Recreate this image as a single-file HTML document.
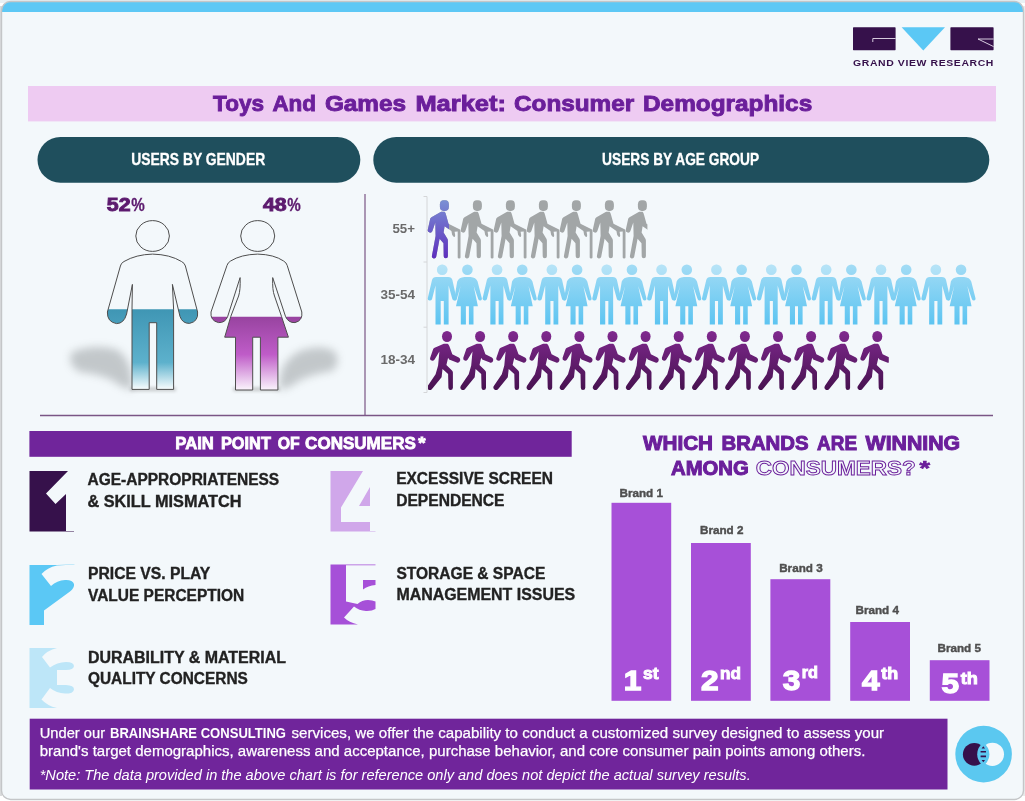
<!DOCTYPE html>
<html lang="en"><head><meta charset="utf-8"><title>Toys And Games Market: Consumer Demographics</title>
<style>
html,body{margin:0;padding:0;background:#fff;}
body{width:1025px;height:801px;overflow:hidden;font-family:"Liberation Sans",sans-serif;}
svg{display:block;font-family:"Liberation Sans",sans-serif;}
</style></head><body>
<svg width="1025" height="801" viewBox="0 0 1025 801">
<defs>
<clipPath id="frameclip"><rect x="1.5" y="1.5" width="1022" height="798" rx="9" ry="9"/></clipPath>
<linearGradient id="gBlue" gradientUnits="userSpaceOnUse" x1="0" y1="4" x2="0" y2="65"><stop offset="0" stop-color="#a3dcf5"/><stop offset="1" stop-color="#5cc4f1"/></linearGradient>
<linearGradient id="gPurp" gradientUnits="userSpaceOnUse" x1="0" y1="5" x2="0" y2="65"><stop offset="0" stop-color="#80298f"/><stop offset="1" stop-color="#471250"/></linearGradient>
<linearGradient id="gOld" gradientUnits="userSpaceOnUse" x1="0" y1="5" x2="0" y2="63"><stop offset="0" stop-color="#7a90d4"/><stop offset="1" stop-color="#5e2fbe"/></linearGradient>
<linearGradient id="gMan" gradientUnits="userSpaceOnUse" x1="0" y1="309" x2="0" y2="390"><stop offset="0" stop-color="#3f96b4"/><stop offset="0.66" stop-color="#5db1cc"/><stop offset="0.98" stop-color="#f3fafc"/></linearGradient>
<linearGradient id="gWoman" gradientUnits="userSpaceOnUse" x1="0" y1="316" x2="0" y2="390"><stop offset="0" stop-color="#97439f"/><stop offset="0.52" stop-color="#bf5cc8"/><stop offset="0.98" stop-color="#f8eefa"/></linearGradient>
<filter id="blur5" x="-50%" y="-50%" width="200%" height="200%"><feGaussianBlur stdDeviation="4.5"/></filter>
<filter id="blur2" x="-50%" y="-50%" width="200%" height="200%"><feGaussianBlur stdDeviation="1.5"/></filter>

<g id="old">
<rect x="14.9" y="5.1" width="9" height="10.6" rx="3.8" ry="4.3"/>
<path d="M16.1 16.6 L19.6 16.6 Q20.6 17.6 21 19.5 L23.5 28.5 L33.5 33.6 Q35.5 34 35.5 36 L35.5 62.2 Q35.5 63.2 34.1 63.2 Q32.7 63.2 32.7 62.2 L32.7 36.4 L29.6 36.6 L30.2 40 Q30 42.2 28.9 41.8 L27.2 39.9 L26.4 35.8 L19.6 31 L18.6 37.4 L22.4 43.6 Q22.9 44.5 22.9 45.5 L22.9 61 Q22.9 63 20.8 63 Q18.7 63 18.7 61 L18.5 48 L14.6 43.6 L11.2 61.6 Q10.8 63.4 8.7 63.2 Q6.6 62.8 6.9 60.8 L10.6 40.7 L10.3 27.4 L7.3 36 Q6.6 37.8 4.6 37.4 Q2.4 36.8 2.7 34.8 L5.2 23.6 Q5.5 22.6 6.5 22 Z"/>
</g>
<g id="couple">
<circle cx="17.2" cy="9.8" r="5.3"/><circle cx="17.2" cy="9.8" r="5.3" fill="#fff" fill-opacity="0.22"/>
<path d="M11.2 17 L23.2 17 Q26.6 17 27.4 20 L31.5 38.6 Q31.6 40.4 29.8 40.6 Q28.2 40.7 27.4 39.3 L23.6 25.5 L23.6 64.6 L18.8 64.6 L18.8 41 L15.7 41 L15.7 64.6 L10.5 64.6 L10.5 25.5 L7 39.3 Q6.2 40.8 4.6 40.6 Q2.6 40.2 2.7 38.4 L7 20 Q7.8 17 11.2 17 Z"/>
<circle cx="42.4" cy="9.8" r="5.3"/>
<path d="M39.5 17 L45.5 17 Q51 17.4 52.6 21.5 L56.9 38.4 Q57 40.2 55.4 40.5 Q53.9 40.6 53.3 39.3 L48.7 26 L52.9 46.3 L48.5 46.3 L48.5 64.6 L43.9 64.6 L43.9 46.3 L40.9 46.3 L40.9 64.6 L35.8 64.6 L35.8 46.3 L31 46.3 L35.6 26 L31.6 39.6 Q30.8 40.8 29.6 40.5 L29.4 38.4 L32.2 21.5 Q33.8 17.4 39.5 17 Z"/>
</g>
<g id="walk">
<ellipse cx="22" cy="11.1" rx="5" ry="5.5"/>
<path d="M18.8 18.3 L22.6 18.3 Q23.8 18.9 24.5 21 L27.3 28.9 L33.8 32 Q35.8 33.2 35 35.6 Q34 38 31.8 37.2 L24.1 34 L23.1 32.3 L21.4 39.7 L27 45 Q27.9 45.9 27.9 47.2 L27.9 62.4 Q27.8 64.6 25.6 64.6 Q23.4 64.6 23.4 62.4 L23.1 48.5 L17.5 43.7 L16.6 51.8 L6.8 63.8 Q5.2 65.4 3.2 64.2 Q1.4 62.6 2.6 60.6 L10.6 48.9 L13.1 40.2 L14.4 26.2 L9.6 34 Q8.4 35.8 6.6 35.2 Q4.6 34.4 5.2 32.4 L8.2 23.6 Q8.7 22.6 9.6 22.3 Z"/>
</g>
</defs>

<rect x="0" y="0" width="1025" height="801" fill="#fff"/>
<rect x="0" y="0" width="1025" height="3" fill="#e9f1f5"/>
<rect x="1022" y="6" width="3" height="790" fill="#e9eaeb"/>
<rect x="0" y="6" width="2" height="790" fill="#d9dbdc"/>
<rect x="1.5" y="1.5" width="1022" height="798" rx="9" ry="9" fill="#f3f8fb"/>
<rect x="0" y="0" width="1025" height="12" fill="#5dc8f5" clip-path="url(#frameclip)"/>
<rect x="1.5" y="1.5" width="1022" height="798" rx="9" ry="9" fill="none" stroke="#c4c6c8" stroke-width="1.4"/>
<g>
<rect x="853" y="27.3" width="42.6" height="22.9" rx="0.6" fill="#36114b"/>
<path d="M872.8 42 L872.8 38.5 L895.6 38.5" fill="none" stroke="#e9e0ee" stroke-width="0.9"/>
<path d="M901.6 27.3 L945 27.3 L923.3 50.6 Z" fill="#5bc8f5"/>
<rect x="950.4" y="27.3" width="43.2" height="22.9" rx="0.6" fill="#36114b"/>
<path d="M993.6 39 L978 39 L993.6 46.6" fill="none" stroke="#e9e0ee" stroke-width="0.9" stroke-linejoin="miter"/>
</g>
<text x="853" y="66.2" font-size="8.6" font-weight="bold" fill="#36114b" text-anchor="start" textLength="141" lengthAdjust="spacingAndGlyphs" letter-spacing="0.5">GRAND VIEW RESEARCH</text>
<rect x="28" y="86" width="968" height="35.4" fill="#eecbf2"/>
<text x="213.1" y="110.6" font-size="22.5" font-weight="bold" fill="#6b1f9b" text-anchor="start" textLength="50.9" lengthAdjust="spacingAndGlyphs" stroke="#6b1f9b" stroke-width="0.9">Toys</text><text x="272.4" y="110.6" font-size="22.5" font-weight="bold" fill="#6b1f9b" text-anchor="start" textLength="43.7" lengthAdjust="spacingAndGlyphs" stroke="#6b1f9b" stroke-width="0.9">And</text><text x="324.9" y="110.6" font-size="22.5" font-weight="bold" fill="#6b1f9b" text-anchor="start" textLength="81.2" lengthAdjust="spacingAndGlyphs" stroke="#6b1f9b" stroke-width="0.9">Games</text><text x="415.4" y="110.6" font-size="22.5" font-weight="bold" fill="#6b1f9b" text-anchor="start" textLength="90.6" lengthAdjust="spacingAndGlyphs" stroke="#6b1f9b" stroke-width="0.9">Market:</text><text x="514" y="110.6" font-size="22.5" font-weight="bold" fill="#6b1f9b" text-anchor="start" textLength="120.2" lengthAdjust="spacingAndGlyphs" stroke="#6b1f9b" stroke-width="0.9">Consumer</text><text x="643" y="110.6" font-size="22.5" font-weight="bold" fill="#6b1f9b" text-anchor="start" textLength="169.2" lengthAdjust="spacingAndGlyphs" stroke="#6b1f9b" stroke-width="0.9">Demographics</text>
<rect x="37.5" y="137" width="322.8" height="45.8" rx="22.9" fill="#1f4f5d"/>
<rect x="373.3" y="137" width="616" height="45.8" rx="22.9" fill="#1f4f5d"/>
<text x="131.2" y="165.4" font-size="16.4" font-weight="bold" fill="#fff" text-anchor="start" textLength="134" lengthAdjust="spacingAndGlyphs" stroke="#fff" stroke-width="0.3">USERS BY GENDER</text>
<text x="602.1" y="165.4" font-size="16.4" font-weight="bold" fill="#fff" text-anchor="start" textLength="157" lengthAdjust="spacingAndGlyphs" stroke="#fff" stroke-width="0.3">USERS BY AGE GROUP</text>
<text x="106.8" y="210.7" font-size="17.5" font-weight="bold" fill="#5c1a6e" text-anchor="start" textLength="23.7" lengthAdjust="spacingAndGlyphs" stroke="#5c1a6e" stroke-width="0.9">52</text>
<text x="131.2" y="210.7" font-size="17.5" font-weight="bold" fill="#5c1a6e" text-anchor="start" textLength="13.5" lengthAdjust="spacingAndGlyphs" stroke="#5c1a6e" stroke-width="0.3">%</text>
<text x="262.9" y="210.7" font-size="17.5" font-weight="bold" fill="#5c1a6e" text-anchor="start" textLength="23.7" lengthAdjust="spacingAndGlyphs" stroke="#5c1a6e" stroke-width="0.9">48</text>
<text x="287.2" y="210.7" font-size="17.5" font-weight="bold" fill="#5c1a6e" text-anchor="start" textLength="13.5" lengthAdjust="spacingAndGlyphs" stroke="#5c1a6e" stroke-width="0.3">%</text>
<line x1="365" y1="194" x2="365" y2="415.5" stroke="#7a5585" stroke-width="1.2"/>
<line x1="40" y1="415.5" x2="993" y2="415.5" stroke="#7a5585" stroke-width="1.3"/>
<g filter="url(#blur5)" opacity="0.36"><path d="M72 352 Q96 343 118 350 Q128 358 131 372 L133 390 Q122 388 112 380 Q96 373 80 372 Q66 364 72 352 Z" fill="#6d7274"/></g>
<g filter="url(#blur5)" opacity="0.36"><path d="M279 390 L281 372 Q286 358 300 351 Q320 344 334 351 Q342 362 332 371 Q316 373 300 380 Q290 388 279 390 Z" fill="#6d7274"/></g>
<g filter="url(#blur2)" opacity="0.3"><rect x="130" y="387" width="46" height="4.5" fill="#777"/><rect x="233" y="387" width="47" height="4.5" fill="#777"/></g>
<clipPath id="manfill"><rect x="100" y="309.2" width="110" height="90"/></clipPath>
<path d="M152.6 254.1 Q170 254.5 181.5 261.5 Q184.6 263 185.4 266 L197.6 312 Q198.6 321.5 189.5 323.4 Q182.5 323.6 180 316.5 L172.4 284.4 L173.6 309.2 L173.6 389.4 L156.7 389.4 L156.7 322.7 L149.2 322.7 L149.2 389.4 L132 389.4 L132 309.2 L132.4 284.4 L126.6 314 Q124 323.6 116.5 323.6 Q107 322 107.4 312 L120.4 266 Q121 263 124 261.5 Q136 254.5 152.6 254.1 Z" fill="#f3f8fb"/>
<path d="M152.6 254.1 Q170 254.5 181.5 261.5 Q184.6 263 185.4 266 L197.6 312 Q198.6 321.5 189.5 323.4 Q182.5 323.6 180 316.5 L172.4 284.4 L173.6 309.2 L173.6 389.4 L156.7 389.4 L156.7 322.7 L149.2 322.7 L149.2 389.4 L132 389.4 L132 309.2 L132.4 284.4 L126.6 314 Q124 323.6 116.5 323.6 Q107 322 107.4 312 L120.4 266 Q121 263 124 261.5 Q136 254.5 152.6 254.1 Z" fill="url(#gMan)" clip-path="url(#manfill)"/>
<path d="M152.6 254.1 Q170 254.5 181.5 261.5 Q184.6 263 185.4 266 L197.6 312 Q198.6 321.5 189.5 323.4 Q182.5 323.6 180 316.5 L172.4 284.4 L173.6 309.2 L173.6 389.4 L156.7 389.4 L156.7 322.7 L149.2 322.7 L149.2 389.4 L132 389.4 L132 309.2 L132.4 284.4 L126.6 314 Q124 323.6 116.5 323.6 Q107 322 107.4 312 L120.4 266 Q121 263 124 261.5 Q136 254.5 152.6 254.1 Z" fill="none" stroke="#4e4e4e" stroke-width="1" stroke-linejoin="round"/>
<ellipse cx="152.6" cy="236" rx="16.8" ry="15.4" fill="#f3f8fb" stroke="#4e4e4e" stroke-width="1"/>
<clipPath id="womfill"><rect x="200" y="316.7" width="120" height="90"/></clipPath>
<path d="M257.7 254.1 Q274 254.5 283.6 261 Q286.4 262.6 287.2 265.4 L301.8 312 Q303 320.6 295 322.6 Q288.5 323 285.6 316.7 L272.7 277.6 Q272.2 290 274.5 296 L281.6 316.7 L288.4 337.2 L277.9 337.2 L277.9 390 L260.4 390 L260.4 337.2 L252.7 337.2 L252.7 390 L235.5 390 L235.5 337.2 L224.7 337.2 L230.7 316.7 L238.6 296 Q240.6 290 240.1 277.6 L227.6 316.7 Q225 323 218.5 322.6 Q210 320.6 211 312 L227 265.4 Q227.8 262.6 230.6 261 Q241 254.5 257.7 254.1 Z" fill="#f3f8fb"/>
<path d="M257.7 254.1 Q274 254.5 283.6 261 Q286.4 262.6 287.2 265.4 L301.8 312 Q303 320.6 295 322.6 Q288.5 323 285.6 316.7 L272.7 277.6 Q272.2 290 274.5 296 L281.6 316.7 L288.4 337.2 L277.9 337.2 L277.9 390 L260.4 390 L260.4 337.2 L252.7 337.2 L252.7 390 L235.5 390 L235.5 337.2 L224.7 337.2 L230.7 316.7 L238.6 296 Q240.6 290 240.1 277.6 L227.6 316.7 Q225 323 218.5 322.6 Q210 320.6 211 312 L227 265.4 Q227.8 262.6 230.6 261 Q241 254.5 257.7 254.1 Z" fill="url(#gWoman)" clip-path="url(#womfill)"/>
<path d="M257.7 254.1 Q274 254.5 283.6 261 Q286.4 262.6 287.2 265.4 L301.8 312 Q303 320.6 295 322.6 Q288.5 323 285.6 316.7 L272.7 277.6 Q272.2 290 274.5 296 L281.6 316.7 L288.4 337.2 L277.9 337.2 L277.9 390 L260.4 390 L260.4 337.2 L252.7 337.2 L252.7 390 L235.5 390 L235.5 337.2 L224.7 337.2 L230.7 316.7 L238.6 296 Q240.6 290 240.1 277.6 L227.6 316.7 Q225 323 218.5 322.6 Q210 320.6 211 312 L227 265.4 Q227.8 262.6 230.6 261 Q241 254.5 257.7 254.1 Z" fill="none" stroke="#4e4e4e" stroke-width="1" stroke-linejoin="round"/>
<ellipse cx="257.7" cy="236" rx="17" ry="15.4" fill="#f3f8fb" stroke="#4e4e4e" stroke-width="1"/>
<path d="M423.5 196.5 L427 196.5 L427 392.5 L423.5 392.5 M423.5 262 L427 262 M423.5 327.2 L427 327.2" fill="none" stroke="#d4d6d8" stroke-width="1"/>
<text x="415" y="232.9" font-size="12.5" font-weight="bold" fill="#6a6a6a" text-anchor="end" textLength="22.5" lengthAdjust="spacingAndGlyphs">55+</text>
<text x="415" y="298.8" font-size="12.5" font-weight="bold" fill="#6a6a6a" text-anchor="end" textLength="34.6" lengthAdjust="spacingAndGlyphs">35-54</text>
<text x="415" y="364" font-size="12.5" font-weight="bold" fill="#6a6a6a" text-anchor="end" textLength="34.6" lengthAdjust="spacingAndGlyphs">18-34</text>
<clipPath id="oldclip"><rect x="420" y="190" width="227.4" height="70"/></clipPath>
<clipPath id="oldpurp"><rect x="420" y="190" width="29" height="70"/></clipPath>
<g clip-path="url(#oldclip)" fill="#a2a6a7"><use href="#old" x="425.0" y="195.2"/><use href="#old" x="458.0" y="195.2"/><use href="#old" x="491.0" y="195.2"/><use href="#old" x="524.0" y="195.2"/><use href="#old" x="557.0" y="195.2"/><use href="#old" x="590.0" y="195.2"/><use href="#old" x="623.0" y="195.2"/></g>
<g clip-path="url(#oldpurp)"><use href="#old" x="425" y="195.2" fill="url(#gOld)"/></g>
<g fill="url(#gBlue)"><use href="#couple" x="425.00" y="260"/><use href="#couple" x="479.85" y="260"/><use href="#couple" x="534.70" y="260"/><use href="#couple" x="589.55" y="260"/><use href="#couple" x="644.40" y="260"/><use href="#couple" x="699.25" y="260"/><use href="#couple" x="754.10" y="260"/><use href="#couple" x="808.95" y="260"/><use href="#couple" x="863.80" y="260"/><use href="#couple" x="918.65" y="260"/></g>
<clipPath id="walkclip"><rect x="428" y="325" width="460.8" height="70"/></clipPath>
<g clip-path="url(#walkclip)" fill="url(#gPurp)"><use href="#walk" x="425.0" y="325.4"/><use href="#walk" x="458.1" y="325.4"/><use href="#walk" x="491.2" y="325.4"/><use href="#walk" x="524.3" y="325.4"/><use href="#walk" x="557.4" y="325.4"/><use href="#walk" x="590.5" y="325.4"/><use href="#walk" x="623.6" y="325.4"/><use href="#walk" x="656.7" y="325.4"/><use href="#walk" x="689.8" y="325.4"/><use href="#walk" x="722.9" y="325.4"/><use href="#walk" x="756.0" y="325.4"/><use href="#walk" x="789.1" y="325.4"/><use href="#walk" x="822.2" y="325.4"/><use href="#walk" x="855.3" y="325.4"/></g>
<rect x="29.4" y="431" width="542.3" height="25.8" fill="#70259b"/>
<text x="175.3" y="449.3" font-size="16.6" font-weight="bold" fill="#fff" text-anchor="start" textLength="38.6" lengthAdjust="spacingAndGlyphs" stroke="#fff" stroke-width="0.8">PAIN</text><text x="220.9" y="449.3" font-size="16.6" font-weight="bold" fill="#fff" text-anchor="start" textLength="50.0" lengthAdjust="spacingAndGlyphs" stroke="#fff" stroke-width="0.8">POINT</text><text x="277.8" y="449.3" font-size="16.6" font-weight="bold" fill="#fff" text-anchor="start" textLength="22.0" lengthAdjust="spacingAndGlyphs" stroke="#fff" stroke-width="0.8">OF</text><text x="305.1" y="449.3" font-size="16.6" font-weight="bold" fill="#fff" text-anchor="start" textLength="110.7" lengthAdjust="spacingAndGlyphs" stroke="#fff" stroke-width="0.8">CONSUMERS</text><text x="418.2" y="449.3" font-size="16.6" font-weight="bold" fill="#fff" text-anchor="start" textLength="7.3" lengthAdjust="spacingAndGlyphs" stroke="#fff" stroke-width="0.8">*</text>
<path d="M29.5 471 L68 471 L46 493.5 L55.5 504 L66 494 L66 531 L74 531 L74 531.6 L29.5 531.6 Z" fill="#36114b"/>
<path d="M29.5 565 L57 565 Q66 564.3 74.5 564.4 L74.5 564.8 Q66 564.8 57 565.4 Q47 567.5 41.5 574 L51 586 Q57 580.5 65 580 Q72.5 579.6 74 584 Q74.6 588 70 591.4 L44 610.5 L44 625 L29.5 625 Z" fill="#5bc8f5"/>
<path d="M29.5 648 L57 648 Q47 650.5 42 657 L50 667.4 Q57 662.4 66 662 Q73.6 662 74 666 Q73.6 670 66 670 L57 670 L57 685 L66 685 Q74 685.4 74 689.4 Q73.6 693.6 65 693.6 Q56.5 693.2 50 688 L41.5 699.4 Q47 705.5 57 708 L29.5 708 Z" fill="#bde6f8"/>
<path d="M330.5 471 L363 471 L341 507.5 L341 522 L370 522 L370 531 L375.5 531 L375.5 531.5 L330.5 531.5 Z M370 487 L370 506 L359 506 Z" fill="#d0a7ea"/>
<path d="M330.5 564.6 L375.5 564.6 L375.5 565.2 L346 565.2 L346 601.5 L357.5 604 Q362 600 368 600 Q372.5 600 375.5 601.5 L375.5 609 Q372 611.2 366 611 Q359 610.6 354 606.5 L344 617.5 Q349 622.5 358 624.6 L330.5 624.6 Z M363 580 L375.5 580 L375.5 585 Q368 585.6 363 589.6 Z" fill="#a650d8"/>
<text x="87.5" y="484.7" font-size="16" font-weight="bold" fill="#222" text-anchor="start" textLength="191.7" lengthAdjust="spacingAndGlyphs" stroke="#222" stroke-width="0.35">AGE-APPROPRIATENESS</text>
<text x="87.5" y="507" font-size="16" font-weight="bold" fill="#222" text-anchor="start" textLength="153.9" lengthAdjust="spacingAndGlyphs" stroke="#222" stroke-width="0.35">&amp; SKILL MISMATCH</text>
<text x="88" y="578.6" font-size="16" font-weight="bold" fill="#222" text-anchor="start" textLength="122.3" lengthAdjust="spacingAndGlyphs" stroke="#222" stroke-width="0.35">PRICE VS. PLAY</text>
<text x="88" y="600.7" font-size="16" font-weight="bold" fill="#222" text-anchor="start" textLength="156.2" lengthAdjust="spacingAndGlyphs" stroke="#222" stroke-width="0.35">VALUE PERCEPTION</text>
<text x="88" y="663.4" font-size="16" font-weight="bold" fill="#222" text-anchor="start" textLength="198" lengthAdjust="spacingAndGlyphs" stroke="#222" stroke-width="0.35">DURABILITY &amp; MATERIAL</text>
<text x="88" y="684.4" font-size="16" font-weight="bold" fill="#222" text-anchor="start" textLength="159.8" lengthAdjust="spacingAndGlyphs" stroke="#222" stroke-width="0.35">QUALITY CONCERNS</text>
<text x="396.2" y="483.6" font-size="16" font-weight="bold" fill="#222" text-anchor="start" textLength="156.8" lengthAdjust="spacingAndGlyphs" stroke="#222" stroke-width="0.35">EXCESSIVE SCREEN</text>
<text x="396.2" y="505.9" font-size="16" font-weight="bold" fill="#222" text-anchor="start" textLength="108.3" lengthAdjust="spacingAndGlyphs" stroke="#222" stroke-width="0.35">DEPENDENCE</text>
<text x="396.4" y="578.6" font-size="16" font-weight="bold" fill="#222" text-anchor="start" textLength="148.9" lengthAdjust="spacingAndGlyphs" stroke="#222" stroke-width="0.35">STORAGE &amp; SPACE</text>
<text x="396.4" y="599.5" font-size="16" font-weight="bold" fill="#222" text-anchor="start" textLength="178.8" lengthAdjust="spacingAndGlyphs" stroke="#222" stroke-width="0.35">MANAGEMENT ISSUES</text>
<text x="643" y="449.7" font-size="20" font-weight="bold" fill="#6b1f9b" text-anchor="start" textLength="70" lengthAdjust="spacingAndGlyphs" stroke="#6b1f9b" stroke-width="1">WHICH</text><text x="721.5" y="449.7" font-size="20" font-weight="bold" fill="#6b1f9b" text-anchor="start" textLength="87.1" lengthAdjust="spacingAndGlyphs" stroke="#6b1f9b" stroke-width="1">BRANDS</text><text x="817.1" y="449.7" font-size="20" font-weight="bold" fill="#6b1f9b" text-anchor="start" textLength="39.9" lengthAdjust="spacingAndGlyphs" stroke="#6b1f9b" stroke-width="1">ARE</text><text x="865.6" y="449.7" font-size="20" font-weight="bold" fill="#6b1f9b" text-anchor="start" textLength="94.6" lengthAdjust="spacingAndGlyphs" stroke="#6b1f9b" stroke-width="1">WINNING</text>
<text x="671" y="475.3" font-size="20" font-weight="bold" fill="#6b1f9b" text-anchor="start" textLength="77.8" lengthAdjust="spacingAndGlyphs" stroke="#6b1f9b" stroke-width="1">AMONG</text>
<text x="755.8" y="475.3" font-size="20" font-weight="bold" fill="#f3f8fb" text-anchor="start" textLength="160" lengthAdjust="spacingAndGlyphs" stroke="#6b1f9b" stroke-width="0.9">CONSUMERS?</text>
<text x="919.5" y="475.3" font-size="20" font-weight="bold" fill="#6b1f9b" text-anchor="start" textLength="10.5" lengthAdjust="spacingAndGlyphs" stroke="#6b1f9b" stroke-width="0.7">*</text>
<rect x="611.5" y="502.8" width="59.7" height="198.0" fill="#a750d8"/>
<rect x="691" y="543" width="59.8" height="157.8" fill="#a750d8"/>
<rect x="770.4" y="579.2" width="59.9" height="121.6" fill="#a750d8"/>
<rect x="850.2" y="622" width="59.8" height="78.8" fill="#a750d8"/>
<rect x="929.8" y="660.2" width="59.7" height="40.6" fill="#a750d8"/>
<text x="619.5" y="497" font-size="11.5" font-weight="bold" fill="#4f4f4f" text-anchor="start" textLength="43.5" lengthAdjust="spacingAndGlyphs" stroke="#4f4f4f" stroke-width="0.4">Brand 1</text>
<text x="700" y="533.7" font-size="11.5" font-weight="bold" fill="#4f4f4f" text-anchor="start" textLength="43.5" lengthAdjust="spacingAndGlyphs" stroke="#4f4f4f" stroke-width="0.4">Brand 2</text>
<text x="779.2" y="571.7" font-size="11.5" font-weight="bold" fill="#4f4f4f" text-anchor="start" textLength="43.5" lengthAdjust="spacingAndGlyphs" stroke="#4f4f4f" stroke-width="0.4">Brand 3</text>
<text x="855.5" y="613.9" font-size="11.5" font-weight="bold" fill="#4f4f4f" text-anchor="start" textLength="43.5" lengthAdjust="spacingAndGlyphs" stroke="#4f4f4f" stroke-width="0.4">Brand 4</text>
<text x="937.5" y="651.8" font-size="11.5" font-weight="bold" fill="#4f4f4f" text-anchor="start" textLength="43.5" lengthAdjust="spacingAndGlyphs" stroke="#4f4f4f" stroke-width="0.4">Brand 5</text>
<text x="623.8" y="690.1" font-size="28" font-weight="bold" fill="#fff" text-anchor="start" textLength="17.6" lengthAdjust="spacingAndGlyphs" stroke="#fff" stroke-width="1.3">1</text>
<text x="642.9" y="678.6" font-size="16.2" font-weight="bold" fill="#fff" text-anchor="start" textLength="15.6" lengthAdjust="spacingAndGlyphs" stroke="#fff" stroke-width="0.9">st</text>
<text x="701" y="690.1" font-size="28" font-weight="bold" fill="#fff" text-anchor="start" textLength="17.6" lengthAdjust="spacingAndGlyphs" stroke="#fff" stroke-width="1.3">2</text>
<text x="720" y="678.6" font-size="16.2" font-weight="bold" fill="#fff" text-anchor="start" textLength="20.9" lengthAdjust="spacingAndGlyphs" stroke="#fff" stroke-width="0.9">nd</text>
<text x="782.7" y="689.5" font-size="28" font-weight="bold" fill="#fff" text-anchor="start" textLength="17.6" lengthAdjust="spacingAndGlyphs" stroke="#fff" stroke-width="1.3">3</text>
<text x="801.7" y="678.0" font-size="16.2" font-weight="bold" fill="#fff" text-anchor="start" textLength="16.3" lengthAdjust="spacingAndGlyphs" stroke="#fff" stroke-width="0.9">rd</text>
<text x="861.9" y="690.1" font-size="28" font-weight="bold" fill="#fff" text-anchor="start" textLength="17.6" lengthAdjust="spacingAndGlyphs" stroke="#fff" stroke-width="1.3">4</text>
<text x="881.3" y="678.6" font-size="16.2" font-weight="bold" fill="#fff" text-anchor="start" textLength="16.9" lengthAdjust="spacingAndGlyphs" stroke="#fff" stroke-width="0.9">th</text>
<text x="941.5" y="692.7" font-size="28" font-weight="bold" fill="#fff" text-anchor="start" textLength="17.6" lengthAdjust="spacingAndGlyphs" stroke="#fff" stroke-width="1.3">5</text>
<text x="960.7" y="683.5" font-size="16.2" font-weight="bold" fill="#fff" text-anchor="start" textLength="17.1" lengthAdjust="spacingAndGlyphs" stroke="#fff" stroke-width="0.9">th</text>
<rect x="29.7" y="718.7" width="917.8" height="70.8" fill="#70259b"/>
<text x="39.7" y="738.4" font-size="15.3" font-weight="normal" fill="#fff" text-anchor="start" textLength="65.4" lengthAdjust="spacingAndGlyphs" stroke="#fff" stroke-width="0.25">Under our</text>
<text x="110" y="738.4" font-size="15.3" font-weight="bold" fill="#fff" text-anchor="start" textLength="176" lengthAdjust="spacingAndGlyphs">BRAINSHARE CONSULTING</text>
<text x="291.5" y="738.4" font-size="15.3" font-weight="normal" fill="#fff" text-anchor="start" textLength="592.6" lengthAdjust="spacingAndGlyphs" stroke="#fff" stroke-width="0.25">services, we offer the capability to conduct a customized survey designed to assess your</text>
<text x="39.7" y="756.2" font-size="15.3" font-weight="normal" fill="#fff" text-anchor="start" textLength="825.7" lengthAdjust="spacingAndGlyphs" stroke="#fff" stroke-width="0.25">brand's target demographics, awareness and acceptance, purchase behavior, and core consumer pain points among others.</text>
<text x="39.7" y="780" font-size="14.5" font-weight="normal" fill="#fff" text-anchor="start" textLength="711" lengthAdjust="spacingAndGlyphs" font-style="italic">*Note: The data provided in the above chart is for reference only and does not depict the actual survey results.</text>
<circle cx="983.6" cy="754.1" r="28.3" fill="#5bc8f0"/>
<circle cx="974.3" cy="754.3" r="11.4" fill="#36114b"/>
<circle cx="992.4" cy="754.3" r="11.6" fill="#f3f8fb"/>
<path d="M983.3 742.6 Q989.4 747.5 989.4 754.3 Q989.4 761 983.3 766 Q977.2 761 977.2 754.3 Q977.2 747.5 983.3 742.6 Z" fill="#5bc8f0"/>
<path d="M983.3 746.2 L985 748.4 L981.6 748.4 Z M980.6 751 L986 751 L986 752.6 L980.6 752.6 Z M980.6 755.6 L986 755.6 L986 757.2 L980.6 757.2 Z M981.6 760 L985 760 L983.3 762.2 Z" fill="#36114b"/>
</svg></body></html>
